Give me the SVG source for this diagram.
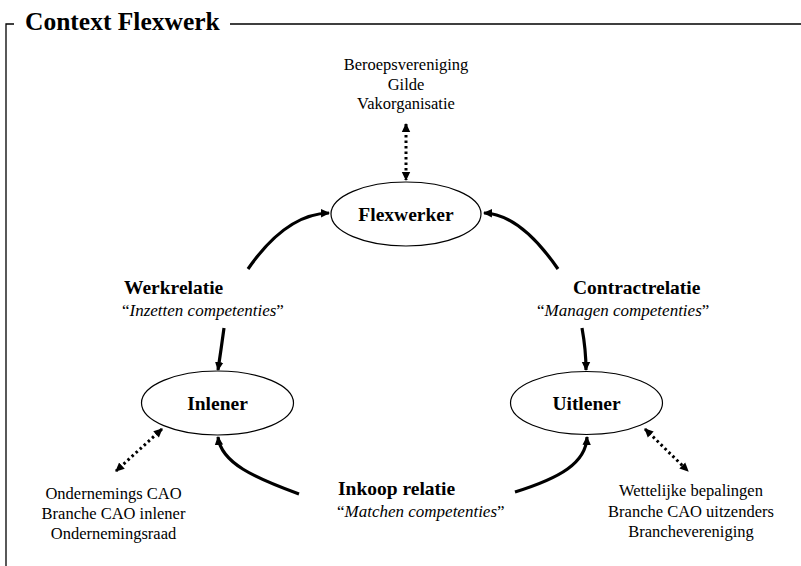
<svg xmlns="http://www.w3.org/2000/svg" width="801" height="566" viewBox="0 0 801 566">
<defs>
<style>
text{font-family:"Liberation Serif","Times New Roman",serif;fill:#000}
.title{font-size:25.5px;font-weight:bold}
.node{font-size:19.5px;font-weight:bold;text-anchor:middle}
.lbl{font-size:19.5px;font-weight:bold}
.sub{font-size:17px}
.sub tspan.i{font-style:italic}
.small{font-size:16.5px;text-anchor:middle}
.ell{fill:#fff;stroke:#000;stroke-width:1.2}
.frame{fill:none;stroke:#000;stroke-width:1.3}
.solid{fill:none;stroke:#000;stroke-width:3.2;marker-end:url(#ah)}
.dot{fill:none;stroke:#000;stroke-width:3;stroke-dasharray:2.5 3;marker-start:url(#dh0);marker-end:url(#dh)}
</style>
<marker id="ah" markerWidth="10" markerHeight="10" refX="8" refY="5" orient="auto" markerUnits="userSpaceOnUse">
<path d="M0,0.8 L9,5 L0,9.2 Z" fill="#000"/>
</marker>
<marker id="dh" markerWidth="10" markerHeight="10" refX="8" refY="5" orient="auto" markerUnits="userSpaceOnUse">
<path d="M0,0.8 L9,5 L0,9.2 Z" fill="#000"/>
</marker>
<marker id="dh0" markerWidth="10" markerHeight="10" refX="1" refY="5" orient="auto" markerUnits="userSpaceOnUse">
<path d="M9,0.8 L0,5 L9,9.2 Z" fill="#000"/>
</marker>
</defs>
<g id="frame">
<path class="frame" d="M6,566 V24 H14 M230,24 H801"/>
<text class="title" x="25" y="30">Context Flexwerk</text>
</g>
<g id="connectors">
<path class="dot" d="M406,124 V180"/>
<path class="dot" d="M162,429 L116,471"/>
<path class="dot" d="M645,429 L688,471"/>
<path class="solid" d="M248,269 Q286,214 329,213"/>
<path class="solid" d="M558,269 Q520,214 484,213"/>
<path class="solid" d="M224,328 Q221,350 218,370"/>
<path class="solid" d="M582,328 Q586,350 586,370"/>
<path class="solid" d="M299,494 C255,478 221,463 218,437"/>
<path class="solid" d="M515,492 C560,478 586,463 587,437"/>
</g>
<g id="beroeps">
<text class="small" x="406" y="70">Beroepsvereniging</text>
<text class="small" x="406" y="89.5">Gilde</text>
<text class="small" x="406" y="109">Vakorganisatie</text>
</g>
<g id="flexwerker">
<ellipse class="ell" cx="406" cy="214" rx="75" ry="32"/>
<text class="node" x="406" y="221">Flexwerker</text>
</g>
<g id="inlener">
<ellipse class="ell" cx="217.5" cy="403" rx="76" ry="32"/>
<text class="node" x="217.5" y="410">Inlener</text>
</g>
<g id="uitlener">
<ellipse class="ell" cx="586.5" cy="403" rx="76" ry="31.5"/>
<text class="node" x="586.5" y="410">Uitlener</text>
</g>
<g id="werkrelatie">
<text class="lbl" x="124" y="294">Werkrelatie</text>
<text class="sub" x="122" y="316">“<tspan class="i">Inzetten competenties</tspan>”</text>
</g>
<g id="contractrelatie">
<text class="lbl" x="573" y="294">Contractrelatie</text>
<text class="sub" x="537" y="316">“<tspan class="i">Managen competenties</tspan>”</text>
</g>
<g id="inkoop">
<text class="lbl" x="338" y="495">Inkoop relatie</text>
<text class="sub" x="337" y="517">“<tspan class="i">Matchen competenties</tspan>”</text>
</g>
<g id="inlener-context">
<text class="small" x="113.5" y="499">Ondernemings CAO</text>
<text class="small" x="113.5" y="519">Branche CAO inlener</text>
<text class="small" x="113.5" y="539">Ondernemingsraad</text>
</g>
<g id="uitlener-context">
<text class="small" x="691" y="496">Wettelijke bepalingen</text>
<text class="small" x="691" y="516.5">Branche CAO uitzenders</text>
<text class="small" x="691" y="537">Branchevereniging</text>
</g>
</svg>
